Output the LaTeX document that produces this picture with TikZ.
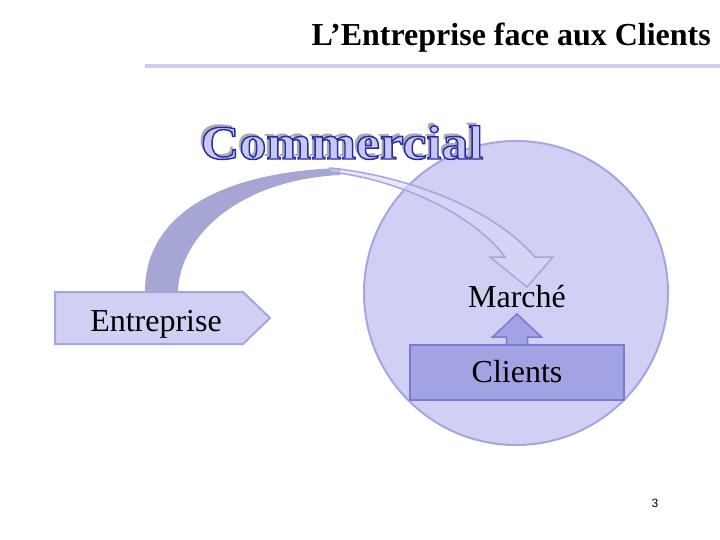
\documentclass[tikz,border=0pt]{standalone}
\usepackage{fontspec}
\setmainfont{Liberation Serif}
\newfontfamily\numfont{Liberation Sans}
\newfontfamily\commfont[FakeStretch=1.12,FakeBold=3]{Liberation Serif Bold}
\newfontfamily\commshadefont[FakeStretch=1.12]{Liberation Serif Bold}
\usetikzlibrary{shapes,arrows,positioning,calc}

\definecolor{zonefill}{RGB}{208,208,244}
\definecolor{zoneline}{RGB}{165,165,226}
\definecolor{clientfill}{RGB}{163,163,228}
\definecolor{clientline}{RGB}{122,122,212}
\definecolor{bandback}{RGB}{166,166,212}
\definecolor{bandfront}{RGB}{216,216,246}
\definecolor{rulecol}{RGB}{204,204,238}
\definecolor{commfill}{RGB}{200,200,246}
\definecolor{commshade}{RGB}{170,170,178}

% dark blue stroke for the outlined word
\newcommand{\commstroke}{\special{pdf:literal 0.16 0.16 0.63 RG}}

\begin{document}
\begin{tikzpicture}[x=1pt, y=-1pt,
    zone/.style={draw=zoneline, line width=2pt, fill=zonefill, circle, minimum size=304pt, inner sep=0pt},
    entbox/.style={draw=zoneline, line width=2pt, fill=zonefill, line join=miter},
    clientbox/.style={draw=clientline, line width=2pt, fill=clientfill, rectangle, minimum width=214pt, minimum height=55pt, font=\fontsize{32}{38}\selectfont},
    bigtxt/.style={font=\fontsize{32}{38}\selectfont, inner sep=0pt},
    title/.style={font=\fontsize{32}{38}\selectfont\bfseries, inner sep=0pt},
    commtxt/.style={inner sep=0pt, anchor=base},
]
\useasboundingbox (0,0) rectangle (720,540);

% Title
\node[title, anchor=base east] (title) at (711,46) {L’Entreprise face aux Clients};
\coordinate (ruleL) at (145,66);
\coordinate (ruleR) at (720,66);
\draw[rulecol, line width=4pt] (ruleL) -- (ruleR);

% Market zone
\node[zone] (marchezone) at (516,293) {};

% Curved arrow (back face and front face)
\fill[bandback] (145,291) .. controls (145,215) and (220,172) .. (340,168)
    -- (340,175) .. controls (240,180) and (180,235) .. (178,291) -- cycle;
\draw[draw=zoneline, line width=1.5pt, fill=bandfront, fill opacity=0.6, line join=miter]
    (330,168) .. controls (400,175) and (490,205) .. (535,257)
    -- (553,257) -- (527,287) -- (490,257) -- (505,257)
    .. controls (470,210) and (390,178) .. (330,172) -- cycle;

% Commercial (shadow, then outlined word)
\coordinate (comm) at (342,159);
\node[commtxt, text=commshade, font=\commshadefont\fontsize{48}{56}\selectfont] (commshadow) at ($(comm)+(-2.5,-2.5)$) {Commercial};
\node[commtxt, text=commfill, font=\commfont\fontsize{48}{56}\selectfont] (commercial) at (comm) {\commstroke Commercial};

% Entreprise
\draw[entbox] (55,292) -- (243,292) -- (270,318) -- (243,344) -- (55,344) -- cycle;
\node[bigtxt, anchor=base] (entreprise) at (156,331) {Entreprise};

% Marche and Clients
\node[bigtxt, anchor=base] (marche) at (517,307) {Marché};
\draw[draw=clientline, line width=1.5pt, fill=clientfill, line join=miter]
    (506.5,346) -- (506.5,337) -- (492.5,337) -- (517,314) -- (541.5,337) -- (527.5,337) -- (527.5,346);
\node[clientbox] (clients) at (517,372) {Clients};

% Page number
\node[font=\numfont\fontsize{12}{14}\selectfont] (pagenum) at (655,503) {3};

\end{tikzpicture}
\end{document}
